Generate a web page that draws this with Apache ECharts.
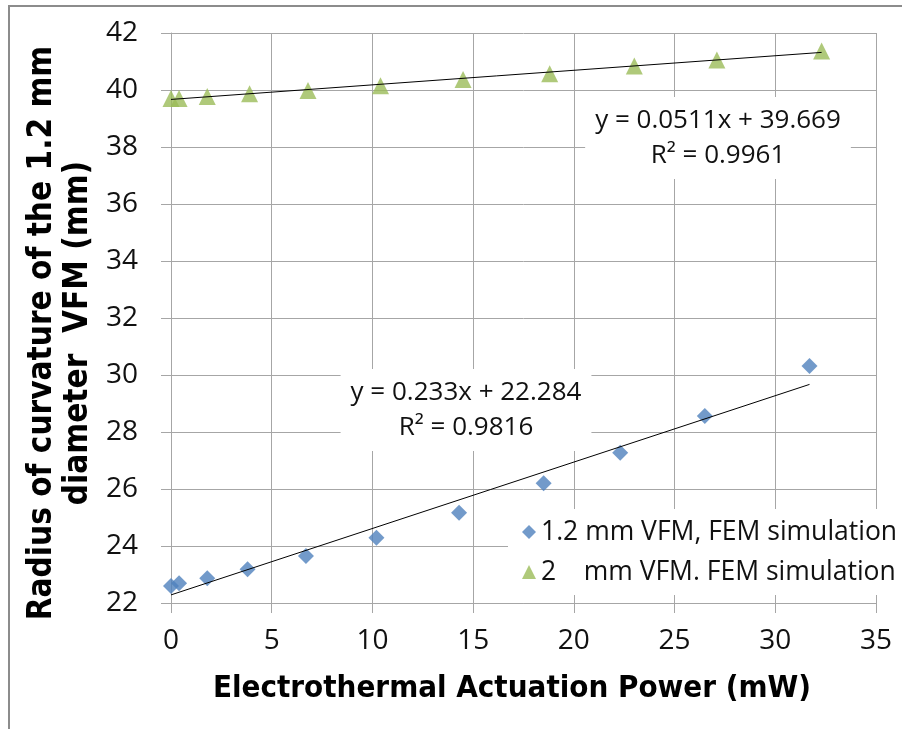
<!DOCTYPE html>
<html>
<head>
<meta charset="utf-8">
<script src="https://cdn.jsdelivr.net/npm/echarts@6/dist/echarts.min.js"></script>
<style>
  html, body { margin: 0; padding: 0; background: #fff; }
  #chart { width: 902px; height: 729px; }
</style>
</head>
<body>
<div id="chart"></div>
<script>
// Radius of curvature vs electrothermal actuation power (FEM simulation)
const powerSmall = [0, 0.4, 1.8, 3.8, 6.7, 10.2, 14.3, 18.5, 22.3, 26.5, 31.7];
const radiusSmall = [22.6, 22.69, 22.87, 23.18, 23.65, 24.29, 25.17, 26.2, 27.27, 28.56, 30.32];
const powerLarge = [0, 0.4, 1.8, 3.9, 6.8, 10.4, 14.5, 18.8, 23.0, 27.1, 32.3];
const radiusLarge = [39.7, 39.7, 39.77, 39.87, 39.98, 40.15, 40.37, 40.57, 40.84, 41.05, 41.37];

// Linear fits as printed beside each trend line
const fitSmall = { slope: 0.233, intercept: 22.284, r2: '0.9816' };
const fitLarge = { slope: 0.0511, intercept: 39.669, r2: '0.9961' };

const seriesNames = ['1.2 mm VFM, FEM simulation', '2    mm VFM. FEM simulation'];
const xTitle = 'Electrothermal Actuation Power (mW)';
const yTitleLines = ['Radius of curvature of the 1.2 mm', 'diameter  VFM (mm)'];

const BLUE = '#4F81BD';
const GREEN = '#9BBB59';
const GRID = '#A6A6A6';
const FONT = "'Open Sans', sans-serif";
const TITLE_FONT = "'Liberation Sans Narrow', 'DejaVu Sans Condensed', sans-serif";

function pairs(xs, ys) { return xs.map((x, i) => [x, ys[i]]); }
function fitLine(xs, fit) {
  const lo = Math.min(...xs), hi = Math.max(...xs);
  return [[lo, fit.slope * lo + fit.intercept], [hi, fit.slope * hi + fit.intercept]];
}
function eqText(fit) {
  return 'y = ' + fit.slope + 'x + ' + fit.intercept.toFixed(3) + '\nR\u00B2 = ' + fit.r2;
}

const chart = echarts.init(document.getElementById('chart'), null, { renderer: 'canvas' });

chart.setOption({
  backgroundColor: '#fff',
  animation: false,
  grid: { left: 171, right: 26, top: 33, bottom: 126, containLabel: false },
  xAxis: {
    type: 'value', min: 0, max: 35, interval: 5,
    axisLine: { show: true, lineStyle: { color: GRID, width: 1 } },
    axisTick: { show: true, inside: false, length: 10, lineStyle: { color: GRID } },
    splitLine: { show: true, lineStyle: { color: GRID, width: 1 } },
    axisLabel: { color: '#111', fontFamily: FONT, fontSize: 28, margin: 24 }
  },
  yAxis: {
    type: 'value', min: 22, max: 42, interval: 2,
    axisLine: { show: true, lineStyle: { color: GRID, width: 1 } },
    axisTick: { show: true, inside: false, length: 10, lineStyle: { color: GRID } },
    splitLine: { show: true, lineStyle: { color: GRID, width: 1 } },
    axisLabel: { color: '#111', fontFamily: FONT, fontSize: 28, margin: 33 }
  },
  legend: {
    data: [
      { name: seriesNames[0], icon: 'diamond' },
      { name: seriesNames[1], icon: 'triangle' }
    ],
    orient: 'vertical',
    left: 508, top: 509,
    padding: [8, 10, 8, 14],
    backgroundColor: '#fff',
    itemWidth: 14, itemHeight: 14, itemGap: 10,
    textStyle: { color: '#111', fontFamily: FONT, fontSize: 26.5, lineHeight: 30 }
  },
  graphic: [
    {
      type: 'polyline', silent: true, z: 100,
      shape: { points: [[9, 729], [9, 6], [902, 6]] },
      style: { stroke: '#8C8C8C', lineWidth: 2, fill: null }
    },
    {
      type: 'text', z: 100,
      x: 512, y: 689,
      style: {
        text: xTitle, fill: '#000', font: 'bold 31px ' + TITLE_FONT,
        textAlign: 'center', textVerticalAlign: 'middle'
      }
    },
    {
      type: 'text', z: 100,
      x: 60, y: 333, rotation: Math.PI / 2,
      style: {
        text: yTitleLines.join('\n'), fill: '#000', font: 'bold 33px ' + TITLE_FONT,
        textAlign: 'center', textVerticalAlign: 'middle', lineHeight: 36
      }
    },
    {
      type: 'text', z: 50,
      x: 718, y: 138,
      style: {
        text: eqText(fitLarge), fill: '#111', font: '26px ' + FONT,
        textAlign: 'center', textVerticalAlign: 'middle', lineHeight: 35,
        backgroundColor: '#fff', padding: [6, 10, 6, 10]
      }
    },
    {
      type: 'text', z: 50,
      x: 466, y: 410,
      style: {
        text: eqText(fitSmall), fill: '#111', font: '26px ' + FONT,
        textAlign: 'center', textVerticalAlign: 'middle', lineHeight: 35,
        backgroundColor: '#fff', padding: [6, 10, 6, 10]
      }
    }
  ],
  series: [
    {
      name: seriesNames[0], type: 'scatter', symbol: 'diamond', symbolSize: 16,
      itemStyle: { color: BLUE }, z: 3,
      data: pairs(powerSmall, radiusSmall)
    },
    {
      name: seriesNames[1], type: 'scatter', symbol: 'triangle', symbolSize: 17,
      itemStyle: { color: GREEN }, z: 3,
      data: pairs(powerLarge, radiusLarge)
    },
    {
      name: 'fit-small', type: 'line', symbol: 'none', z: 4,
      lineStyle: { color: '#000', width: 1 },
      data: fitLine(powerSmall, fitSmall)
    },
    {
      name: 'fit-large', type: 'line', symbol: 'none', z: 4,
      lineStyle: { color: '#000', width: 1 },
      data: fitLine(powerLarge, fitLarge)
    }
  ]
});
</script>
</body>
</html>
